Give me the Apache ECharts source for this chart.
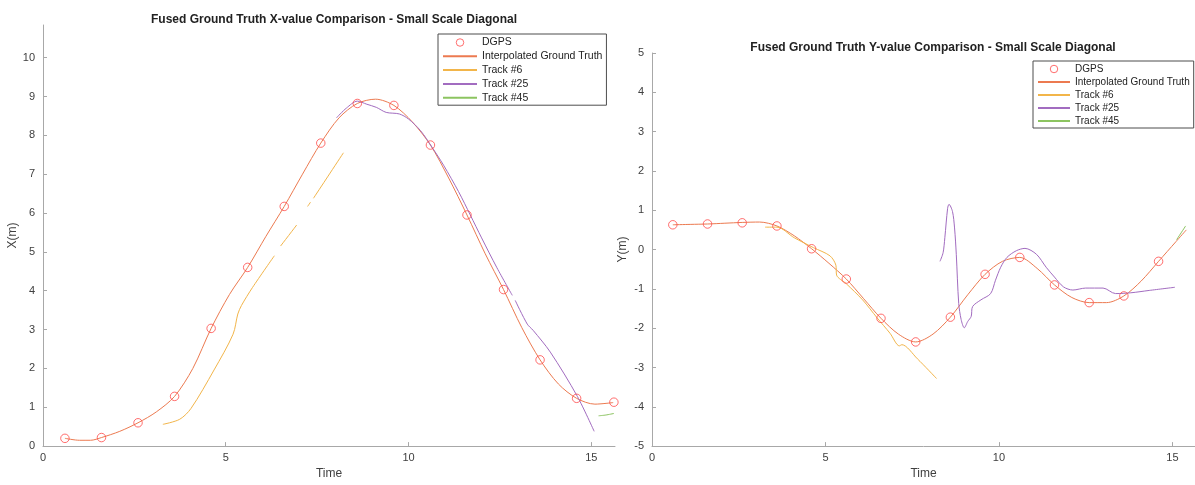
<!DOCTYPE html>
<html>
<head>
<meta charset="utf-8">
<script src="https://cdn.jsdelivr.net/npm/echarts@6/dist/echarts.min.js"></script>
<style>html,body{margin:0;padding:0;background:#fff}#c{width:1195px;height:485px}</style>
</head>
<body>
<div id="c"></div>
<script>
// ---------- Data ----------
// DGPS samples
const dgpsT  = [0.6, 1.6, 2.6, 3.6, 4.6, 5.6, 6.6, 7.6, 8.6, 9.6, 10.6, 11.6, 12.6, 13.6, 14.6, 15.62];
const dgpsX  = [0.2, 0.22, 0.6, 1.28, 3.03, 4.6, 6.17, 7.8, 8.82, 8.77, 7.75, 5.95, 4.03, 2.22, 1.23, 1.13];
const dgpsTY = [0.6, 1.6, 2.6, 3.6, 4.6, 5.6, 6.6, 7.6, 8.6, 9.6, 10.6, 11.6, 12.6, 13.6, 14.6];
const dgpsY  = [0.63, 0.65, 0.68, 0.6, 0.02, -0.75, -1.75, -2.35, -1.72, -0.63, -0.2, -0.9, -1.35, -1.18, -0.3];

// Interpolated ground truth
const gtT  = [0.6, 1.0, 1.3, 1.6, 2.1, 2.6, 3.1, 3.6, 4.1, 4.6, 5.1, 5.6, 6.1, 6.6, 7.1, 7.6, 8.1, 8.6, 9.1, 9.6, 10.1, 10.6, 11.1, 11.6, 12.1, 12.6, 13.1, 13.6, 14.1, 14.6, 15.1, 15.6];
const gtX  = [0.2, 0.15, 0.15, 0.22, 0.38, 0.6, 0.88, 1.28, 2.0, 3.03, 3.9, 4.6, 5.4, 6.17, 7.0, 7.8, 8.45, 8.82, 8.93, 8.77, 8.35, 7.75, 6.9, 5.95, 4.95, 4.03, 3.05, 2.22, 1.6, 1.23, 1.08, 1.12];
const gtTY = [0.6, 1.1, 1.6, 2.1, 2.6, 3.1, 3.6, 4.1, 4.6, 5.1, 5.6, 6.1, 6.6, 7.1, 7.6, 8.1, 8.6, 9.1, 9.6, 10.1, 10.6, 11.1, 11.6, 12.1, 12.6, 13.1, 13.6, 14.1, 14.6, 15.1, 15.4];
const gtY  = [0.63, 0.64, 0.65, 0.67, 0.69, 0.7, 0.6, 0.35, 0.02, -0.35, -0.75, -1.25, -1.75, -2.15, -2.35, -2.15, -1.72, -1.15, -0.63, -0.3, -0.2, -0.48, -0.9, -1.22, -1.35, -1.35, -1.18, -0.8, -0.3, 0.2, 0.5];

// Track #6
const t6T  = [3.28, 3.74, 4.05, 4.68, 5.2, 5.33, 5.43, 5.73, 6.33, 6.4, 6.5, 6.94, 7.05, 7.24, 7.32, 7.36, 7.4, 7.8, 8.22];
const t6X  = [0.56, 0.69, 0.97, 1.96, 2.88, 3.4, 3.62, 4.08, 4.9, null, 5.15, 5.69, null, 6.17, 6.28, null, 6.38, 6.95, 7.55];
const t6TY = [3.26, 3.6, 4.1, 4.65, 5.13, 5.3, 5.32, 5.6, 6.07, 6.49, 6.86, 7.13, 7.2, 7.65, 8.2];
const t6Y  = [0.57, 0.57, 0.3, 0.05, -0.16, -0.4, -0.65, -0.87, -1.28, -1.74, -2.13, -2.45, -2.42, -2.78, -3.28];

// Track #25
const t25T  = [8.03, 8.3, 8.6, 8.86, 9.12, 9.39, 9.75, 10.0, 10.33, 10.64, 10.96, 11.37, 11.69, 12.0, 12.42, 12.84, 12.88, 12.92, 13.25, 13.41, 13.88, 14.62, 15.08];
const t25X  = [8.45, 8.7, 8.88, 8.8, 8.72, 8.59, 8.55, 8.42, 8.12, 7.7, 7.23, 6.55, 5.95, 5.36, 4.59, 3.88, null, 3.75, 3.14, 2.98, 2.42, 1.28, 0.38];
const t25TY = [8.3, 8.39, 8.44, 8.52, 8.56, 8.66, 8.72, 8.77, 8.84, 8.91, 9.0, 9.1, 9.2, 9.24, 9.48, 9.76, 9.9, 10.05, 10.23, 10.5, 10.75, 11.08, 11.36, 11.6, 11.86, 12.13, 12.5, 13.0, 13.36, 13.8, 14.33, 15.07];
const t25Y  = [-0.3, -0.08, 0.3, 1.05, 1.15, 0.97, 0.55, -0.12, -1.37, -1.78, -1.99, -1.83, -1.7, -1.45, -1.28, -1.12, -0.78, -0.45, -0.2, -0.03, 0.03, -0.12, -0.45, -0.7, -0.95, -1.03, -0.98, -0.98, -1.12, -1.1, -1.04, -0.96];

// Track #45
const t45T  = [15.2, 15.4, 15.62];
const t45X  = [0.78, 0.8, 0.84];
const t45TY = [15.12, 15.38];
const t45Y  = [0.25, 0.6];

// ---------- Helpers ----------
const zip = (a, b) => a.map((v, i) => [v, b[i] === null ? '-' : b[i]]);
const C = {
  dgps: '#ff4a4a', gt: '#ec7a50', t6: '#f2b54a', t25: '#a26cc0', t45: '#8cc460'
};
const names = ['DGPS', 'Interpolated Ground Truth', 'Track #6', 'Track #25', 'Track #45'];
const FONT = 'Liberation Sans, Arial, sans-serif';

function xAxis(gi) {
  return {
    type: 'value', gridIndex: gi, min: 0, max: 15.65, interval: 5,
    name: 'Time', nameLocation: 'middle', nameGap: 19,
    nameTextStyle: {color: '#404040', fontSize: 12, fontFamily: FONT},
    axisLine: {onZero: false, lineStyle: {color: '#a8a8a8', width: 1}},
    axisTick: {inside: true, length: 4, lineStyle: {color: '#a8a8a8'}},
    axisLabel: {color: '#404040', fontSize: 11, fontFamily: FONT, margin: 6, showMaxLabel: false},
    splitLine: {show: false}
  };
}
function yAxis(gi, min, max, name) {
  return {
    type: 'value', gridIndex: gi, min: min, max: max, interval: 1,
    name: name, nameLocation: 'middle', nameGap: 23,
    nameTextStyle: {color: '#404040', fontSize: 12, fontFamily: FONT},
    axisLine: {show: true, onZero: false, lineStyle: {color: '#a8a8a8', width: 1}},
    axisTick: {show: true, inside: true, length: 4, lineStyle: {color: '#a8a8a8'}},
    axisLabel: {color: '#404040', fontSize: 11, fontFamily: FONT, margin: 8, showMaxLabel: max === 5},
    splitLine: {show: false}
  };
}
function lineS(name, gi, data, color) {
  return {
    name: name, type: 'line', xAxisIndex: gi, yAxisIndex: gi, data: data,
    symbol: 'none', smooth: 0.3, connectNulls: false,
    lineStyle: {color: color, width: 1}, itemStyle: {color: color},
    animation: false, z: 2
  };
}
function dgpsS(gi, data) {
  return {
    name: 'DGPS', type: 'scatter', xAxisIndex: gi, yAxisIndex: gi, data: data,
    symbol: 'circle', symbolSize: 8.5,
    itemStyle: {color: 'rgba(255,255,255,0)', borderColor: C.dgps, borderWidth: 1},
    animation: false, z: 5
  };
}
function legend(left, top, fs, iw, gap, pad) {
  return {
    data: names.map(n => n === 'DGPS'
      ? {name: n, itemStyle: {borderWidth: 1, color: 'rgba(255,255,255,0)', borderColor: C.dgps}}
      : {name: n, itemStyle: {opacity: 0}}),
    orient: 'vertical', left: left, top: top,
    itemWidth: iw, itemHeight: 7.5, itemGap: gap,
    padding: pad,
    borderColor: '#4d4d4d', borderWidth: 1, backgroundColor: '#fff',
    textStyle: {color: '#222', fontSize: fs, fontFamily: FONT},
    selectedMode: false
  };
}

const chart = echarts.init(document.getElementById('c'), null, {renderer: 'canvas'});
chart.setOption({
  backgroundColor: '#fff',
  animation: false,
  title: [
    {text: 'Fused Ground Truth X-value Comparison - Small Scale Diagonal', left: 329, top: 9, textAlign: 'center',
     textStyle: {fontSize: 12, fontWeight: 'bold', color: '#222', fontFamily: FONT}},
    {text: 'Fused Ground Truth Y-value Comparison - Small Scale Diagonal', left: 928, top: 37, textAlign: 'center',
     textStyle: {fontSize: 12, fontWeight: 'bold', color: '#222', fontFamily: FONT}}
  ],
  legend: [
    legend(438, 34, 10.5, 34, 2.8, [3, 4, 2, 4]),
    legend(1033, 61, 10, 32, 3, [3, 4, 2, 4])
  ],
  grid: [
    {left: 43, right: 580, top: 25, bottom: 35},
    {left: 652, right: -10, top: 53, bottom: 33}
  ],
  xAxis: [xAxis(0), xAxis(1)],
  yAxis: [yAxis(0, 0, 10.84, 'X(m)'), yAxis(1, -5, 5, 'Y(m)')],
  series: [
    dgpsS(0, zip(dgpsT, dgpsX)),
    lineS('Interpolated Ground Truth', 0, zip(gtT, gtX), C.gt),
    lineS('Track #6', 0, zip(t6T, t6X), C.t6),
    lineS('Track #25', 0, zip(t25T, t25X), C.t25),
    lineS('Track #45', 0, zip(t45T, t45X), C.t45),
    dgpsS(1, zip(dgpsTY, dgpsY)),
    lineS('Interpolated Ground Truth', 1, zip(gtTY, gtY), C.gt),
    lineS('Track #6', 1, zip(t6TY, t6Y), C.t6),
    lineS('Track #25', 1, zip(t25TY, t25Y), C.t25),
    lineS('Track #45', 1, zip(t45TY, t45Y), C.t45)
  ]
});
</script>
</body>
</html>
